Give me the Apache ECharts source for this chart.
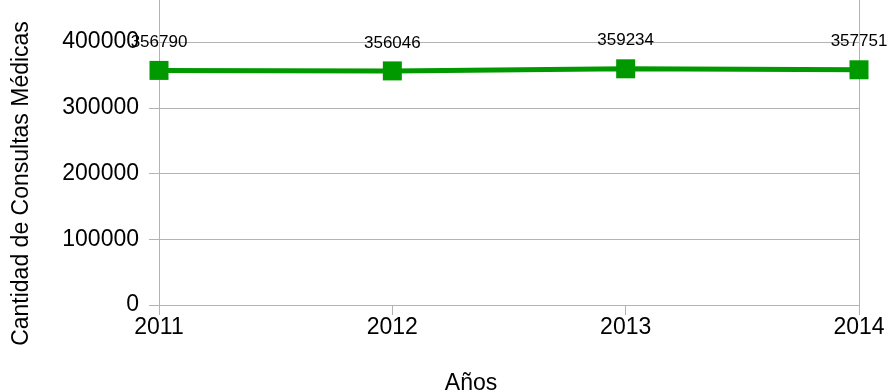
<!DOCTYPE html>
<html>
<head>
<meta charset="utf-8">
<script src="https://cdn.jsdelivr.net/npm/echarts@6/dist/echarts.min.js"></script>
<style>
  html, body { margin: 0; padding: 0; background: #fff; }
  #chart { width: 889px; height: 392px; }
</style>
</head>
<body>
<div id="chart"></div>
<script>
// Consultas médicas por año
const years = ['2011', '2012', '2013', '2014'];
const consultas = [356790, 356046, 359234, 357751];
const yTicks = [0, 100000, 200000, 300000, 400000];

const FONT = '"Liberation Sans", Arial, sans-serif';
const GRID_COLOR = '#b3b3b3';

const chart = echarts.init(document.getElementById('chart'));

const gridLeft = 159, gridRight = 30, gridTop = 42, gridBottom = 87;
const plain = v => String(v);

chart.setOption({
  animation: false,
  backgroundColor: '#ffffff',
  grid: {
    left: gridLeft, right: gridRight, top: gridTop, bottom: gridBottom,
    containLabel: false, outerBoundsMode: 'none'
  },
  xAxis: {
    type: 'category',
    data: years,
    boundaryGap: false,
    name: 'Años',
    nameLocation: 'middle',
    nameGap: 67,
    nameTextStyle: { fontFamily: FONT, fontSize: 23, color: '#000', padding: [0, 76, 0, 0] },
    axisLine: { show: true, lineStyle: { color: GRID_COLOR, width: 1 } },
    axisTick: { show: true, inside: false, length: 10, lineStyle: { color: GRID_COLOR, width: 1 } },
    axisLabel: { fontFamily: FONT, fontSize: 23, color: '#000', margin: 11 },
    splitLine: { show: false }
  },
  yAxis: [{
    type: 'value',
    min: yTicks[0],
    max: yTicks[yTicks.length - 1],
    interval: yTicks[1] - yTicks[0],
    name: 'Cantidad de Consultas Médicas',
    nameLocation: 'middle',
    nameGap: 126,
    nameTextStyle: { fontFamily: FONT, fontSize: 23, color: '#000', padding: [0, 20, 0, 0] },
    axisLine: { show: true, lineStyle: { color: GRID_COLOR, width: 1 } },
    axisTick: { show: true, inside: false, length: 10, lineStyle: { color: GRID_COLOR, width: 1 } },
    axisLabel: { fontFamily: FONT, fontSize: 23, color: '#000', margin: 20, formatter: plain },
    splitLine: { show: true, lineStyle: { color: GRID_COLOR, width: 1 } }
  }, {
    type: 'value',
    position: 'right',
    min: yTicks[0],
    max: yTicks[yTicks.length - 1],
    interval: yTicks[1] - yTicks[0],
    axisLine: { show: true, lineStyle: { color: GRID_COLOR, width: 1 } },
    axisTick: { show: false },
    axisLabel: { show: false },
    splitLine: { show: false }
  }],
  series: [{
    type: 'line',
    data: consultas,
    symbol: 'rect',
    symbolSize: 19,
    lineStyle: { color: '#009900', width: 5 },
    itemStyle: { color: '#009900' },
    label: {
      show: true,
      position: 'top',
      distance: 10,
      fontFamily: FONT,
      fontSize: 17,
      color: '#000',
      formatter: p => plain(p.value)
    },
    z: 5
  }],
  // the plot frame's vertical edges continue up to the top of the canvas
  graphic: [
    { type: 'line', shape: { x1: gridLeft + 0.5, y1: 0, x2: gridLeft + 0.5, y2: gridTop }, style: { stroke: GRID_COLOR, lineWidth: 1 }, silent: true },
    { type: 'line', shape: { x1: 889 - gridRight + 0.5, y1: 0, x2: 889 - gridRight + 0.5, y2: gridTop }, style: { stroke: GRID_COLOR, lineWidth: 1 }, silent: true }
  ]
});
</script>
</body>
</html>
